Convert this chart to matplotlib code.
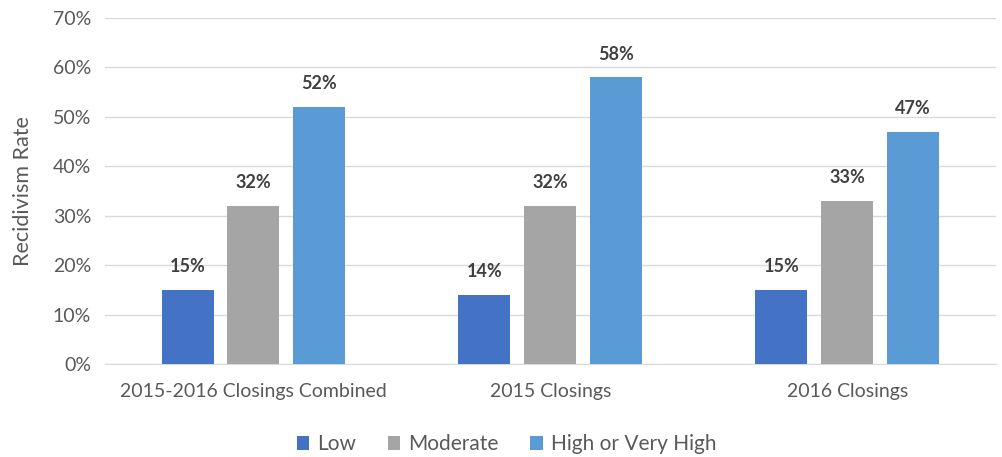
import numpy as np
import matplotlib.pyplot as plt
from matplotlib.ticker import PercentFormatter

# data
categories = ["2015-2016 Closings Combined", "2015 Closings", "2016 Closings"]
series     = ["Low", "Moderate", "High or Very High"]
low        = [15, 14, 15]
moderate   = [32, 32, 33]
high       = [52, 58, 47]
colors     = ["#4472C4", "#A5A5A5", "#5B9BD5"]

plt.rcParams["font.family"] = ["Lato", "DejaVu Sans"]

fig = plt.figure(figsize=(10.03, 4.57), dpi=100)
ax = fig.add_axes([0.1047, 0.2035, 0.888, 0.757])

x = np.arange(len(categories))
width = 0.175
step = 0.222
for i, (vals, name, c) in enumerate(zip([low, moderate, high], series, colors)):
    pos = x + (i - 1) * step
    ax.bar(pos, vals, width, color=c, label=name, zorder=3)
    for p, v in zip(pos, vals):
        ax.text(p, v + 3.0, f"{v}%", ha="center", va="bottom",
                fontsize=13, fontweight="bold", color="#404040")

ax.set_ylim(0, 70)
ax.set_xlim(-0.5, 2.5)
ax.set_yticks(range(0, 71, 10))
ax.yaxis.set_major_formatter(PercentFormatter(decimals=0))
ax.set_xticks(x)
ax.set_xticklabels(categories)
ax.tick_params(axis="x", length=0, labelsize=14, colors="#595959", pad=14)
ax.tick_params(axis="y", length=0, labelsize=14, colors="#595959", pad=10)
ax.grid(axis="y", color="#D9D9D9", linewidth=1, zorder=0)
for s in ["top", "right", "left"]:
    ax.spines[s].set_visible(False)
ax.spines["bottom"].set_color("#D9D9D9")
ax.set_ylabel("Recidivism Rate", fontsize=15.5, color="#595959", labelpad=14)

fig.legend(loc="lower center", bbox_to_anchor=(0.505, -0.035), ncol=3, frameon=False,
           fontsize=15, labelcolor="#595959", handlelength=0.6, handleheight=0.6,
           columnspacing=1.5, handletextpad=0.4)

fig.savefig("out.png", dpi=100)
